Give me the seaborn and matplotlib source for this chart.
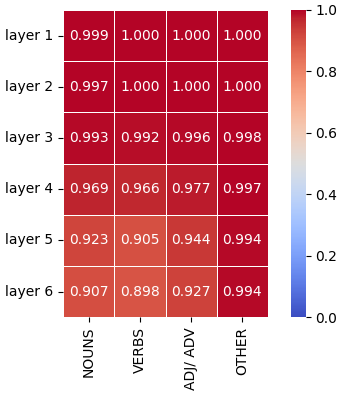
import numpy as np
import pandas as pd
import seaborn as sns
import matplotlib
matplotlib.use('Agg')
import matplotlib.pyplot as plt

layers = ['layer 1', 'layer 2', 'layer 3', 'layer 4', 'layer 5', 'layer 6']
categories = ['NOUNS', 'VERBS', 'ADJ/ ADV', 'OTHER']
nouns = [0.999, 0.997, 0.993, 0.969, 0.923, 0.907]
verbs = [1.000, 1.000, 0.992, 0.966, 0.905, 0.898]
adj_adv = [1.000, 1.000, 0.996, 0.977, 0.944, 0.927]
other = [1.000, 1.000, 0.998, 0.997, 0.994, 0.994]

df = pd.DataFrame({'NOUNS': nouns, 'VERBS': verbs, 'ADJ/ ADV': adj_adv, 'OTHER': other},
                  index=layers)[categories]

fig = plt.figure(figsize=(3.41, 3.96), dpi=100)
ax = fig.add_axes([0.185, 0.199, 0.601, 0.776])
cax = fig.add_axes([0.853, 0.199, 0.044, 0.776])

sns.heatmap(df, ax=ax, cbar_ax=cax, cmap='coolwarm', vmin=0, vmax=1,
            annot=True, fmt='.3f', linewidths=0.7, linecolor='white',
            annot_kws={'fontsize': 10})
ax.tick_params(axis='y', rotation=0, labelsize=10)
ax.tick_params(axis='x', rotation=90, labelsize=10)
cax.tick_params(labelsize=10)

fig.savefig('out.png', dpi=100)
